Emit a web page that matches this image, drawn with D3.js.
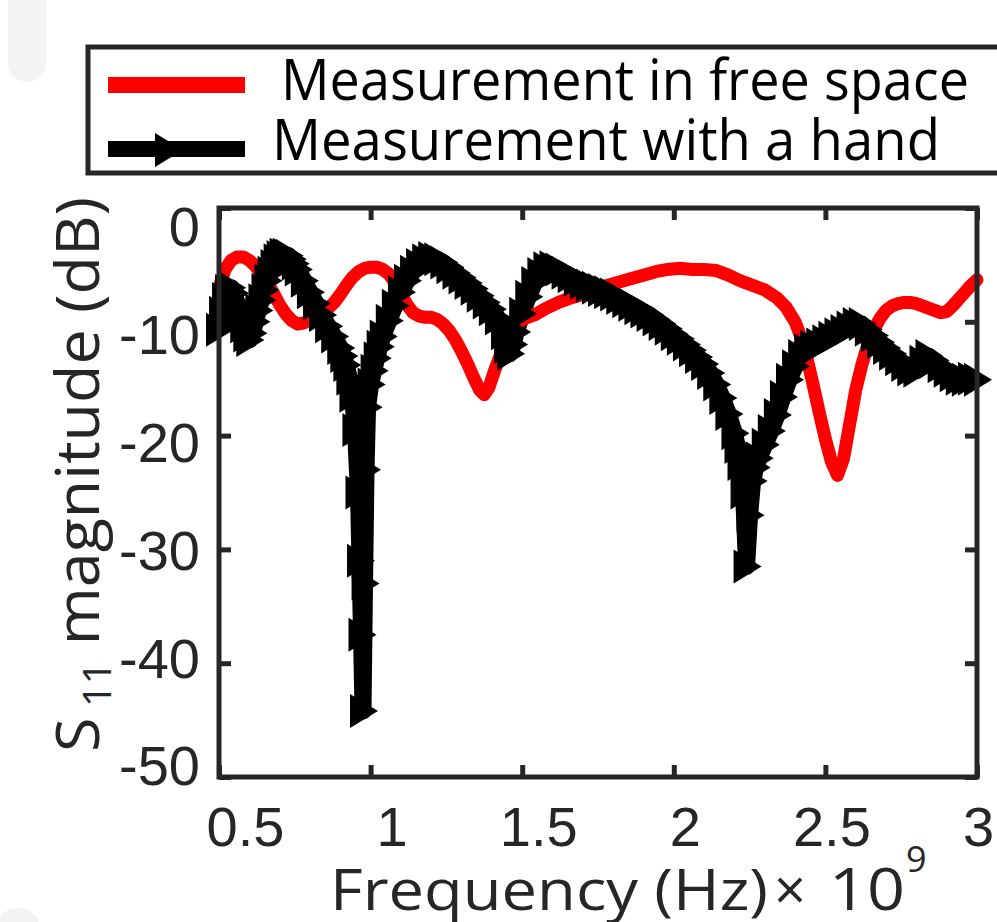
<!DOCTYPE html>
<html>
<head>
<meta charset="utf-8">
<script src="https://cdn.jsdelivr.net/npm/d3@7"></script>
<style>
  body { margin: 0; background: #fff; }
  .tick text { font-family: "Liberation Sans", Arial, sans-serif; }
</style>
</head>
<body>
<div class="chart"></div>
<script>
// measured S11, free space (red)
const freqFree = [0.50, 0.52, 0.54, 0.56, 0.58, 0.60, 0.62, 0.64, 0.66, 0.68, 0.70, 0.72, 0.74, 0.76, 0.78, 0.80,
  0.82, 0.84, 0.86, 0.88, 0.90, 0.92, 0.94, 0.96, 0.98, 1.00, 1.02, 1.04, 1.06, 1.08, 1.10, 1.12, 1.14, 1.16, 1.18,
  1.20, 1.22, 1.24, 1.26, 1.28, 1.30, 1.32, 1.34, 1.36, 1.375, 1.39, 1.41, 1.43, 1.45, 1.47, 1.50, 1.54, 1.58, 1.62,
  1.66, 1.70, 1.74, 1.78, 1.82, 1.86, 1.90, 1.94, 1.98, 2.02, 2.06, 2.10, 2.14, 2.18, 2.22, 2.26, 2.30, 2.34, 2.37,
  2.40, 2.42, 2.44, 2.46, 2.48, 2.50, 2.52, 2.54, 2.56, 2.58, 2.60, 2.62, 2.64, 2.66, 2.68, 2.70, 2.72, 2.74, 2.76,
  2.78, 2.80, 2.82, 2.84, 2.86, 2.88, 2.90, 2.92, 2.94, 2.96, 2.98, 3.00];
const s11Free = [-7.0, -5.4, -4.6, -4.3, -4.3, -4.6, -5.1, -5.8, -6.6, -7.5, -8.5, -9.3, -9.9, -10.2, -10.1, -9.8,
  -9.5, -9.2, -8.8, -8.3, -7.6, -6.8, -6.1, -5.6, -5.3, -5.2, -5.2, -5.4, -5.8, -6.5, -7.5, -8.5, -9.2, -9.5, -9.6,
  -9.6, -9.8, -10.2, -10.8, -11.6, -12.6, -13.7, -14.9, -16.0, -16.4, -15.8, -14.2, -12.8, -11.6, -10.6, -9.8, -9.4, -8.8, -8.3,
  -7.9, -7.6, -7.2, -6.8, -6.5, -6.2, -5.9, -5.6, -5.4, -5.3, -5.4, -5.4, -5.5, -5.9, -6.4, -6.8, -7.2, -7.9, -8.7,
  -10.0, -11.4, -13.3, -15.6, -18.0, -20.3, -22.3, -23.5, -22.0, -19.0, -16.0, -13.8, -12.0, -10.7, -9.7, -9.0, -8.6, -8.4, -8.3,
  -8.3, -8.4, -8.6, -8.8, -9.0, -9.2, -9.1, -8.6, -8.0, -7.4, -6.8, -6.3];

// measured S11, with a hand (black, triangle markers)
const freqHand = [0.50, 0.51, 0.52, 0.53, 0.54, 0.55, 0.56, 0.57, 0.58, 0.59, 0.60, 0.61, 0.62, 0.63, 0.64, 0.65,
  0.66, 0.67, 0.68, 0.69, 0.70, 0.71, 0.72, 0.73, 0.74, 0.75, 0.76, 0.78, 0.80, 0.82, 0.84, 0.86, 0.88, 0.90, 0.91,
  0.92, 0.93, 0.94, 0.95, 0.96, 0.965, 0.97, 0.975, 0.98, 0.985, 0.99, 1.00, 1.01, 1.02, 1.03, 1.04, 1.06, 1.08, 1.10,
  1.12, 1.14, 1.16, 1.18, 1.20, 1.22, 1.24, 1.26, 1.28, 1.30, 1.32, 1.34, 1.36, 1.38, 1.40, 1.42, 1.44, 1.45, 1.46,
  1.47, 1.48, 1.50, 1.52, 1.54, 1.56, 1.58, 1.60, 1.62, 1.64, 1.66, 1.68, 1.70, 1.72, 1.74, 1.76, 1.78, 1.80, 1.82,
  1.84, 1.86, 1.88, 1.90, 1.92, 1.94, 1.96, 1.98, 2.00, 2.02, 2.04, 2.06, 2.08, 2.10, 2.12, 2.14, 2.16, 2.18, 2.20,
  2.21, 2.22, 2.23, 2.24, 2.25, 2.26, 2.27, 2.28, 2.30, 2.32, 2.34, 2.36, 2.38, 2.40, 2.42, 2.44, 2.46, 2.48, 2.50,
  2.52, 2.54, 2.56, 2.58, 2.60, 2.62, 2.64, 2.66, 2.68, 2.70, 2.72, 2.74, 2.76, 2.78, 2.80, 2.82, 2.84, 2.86, 2.88,
  2.90, 2.92, 2.94, 2.96, 2.98, 3.00];
const s11Hand = [-10.7, -9.2, -8.0, -7.3, -7.0, -7.5, -8.4, -9.4, -10.4, -11.2, -11.6, -11.0, -10.0, -9.0, -8.1, -7.2,
  -6.4, -5.7, -5.1, -4.6, -4.3, -4.1, -4.1, -4.2, -4.5, -4.9, -5.4, -6.4, -7.4, -8.4, -9.4, -10.4, -11.3, -12.3, -13.0,
  -13.8, -15.0, -16.5, -19.5, -25.0, -31.0, -37.5, -44.2, -33.0, -23.0, -17.5, -15.5, -14.3, -13.2, -12.2, -11.3, -9.9, -8.6, -7.4,
  -6.4, -5.6, -5.0, -4.6, -4.4, -4.5, -4.8, -5.2, -5.7, -6.1, -6.6, -7.1, -7.7, -8.3, -8.9, -9.7, -11.0, -12.2, -12.8,
  -12.0, -10.9, -9.3, -7.8, -6.6, -5.8, -5.3, -5.2, -5.4, -5.7, -6.0, -6.3, -6.6, -6.8, -7.0, -7.2, -7.4, -7.6, -7.9,
  -8.2, -8.5, -8.8, -9.1, -9.4, -9.8, -10.2, -10.6, -11.1, -11.5, -12.0, -12.5, -13.1, -13.7, -14.5, -15.5, -16.7, -18.1, -19.8,
  -21.0, -22.5, -25.0, -31.5, -27.0, -24.0, -22.8, -22.0, -20.8, -19.6, -18.2, -16.6, -15.1, -13.9, -13.0, -12.5, -12.2, -12.0, -11.7,
  -11.4, -11.1, -10.8, -10.5, -10.2, -10.2, -10.7, -11.2, -11.8, -12.3, -12.8, -13.3, -13.8, -14.2, -14.3, -13.5, -13.0, -13.4, -13.9,
  -14.3, -14.7, -15.0, -15.1, -15.0, -15.1];

const xTicks = [0.5, 1, 1.5, 2, 2.5, 3];
const yTicks = [0, -10, -20, -30, -40, -50];
const seriesNames = ['Measurement in free space', 'Measurement with a hand'];

const W = 997, H = 922;
const plot = {left: 219, right: 977, top: 208, bottom: 777};
const ink = '#262626';

let svg = d3.select('.chart')
  .append('svg')
    .attr('width', W)
    .attr('height', H);

// faint smudges present in the scan
svg.append('rect')
  .attr('x', 8).attr('y', -20).attr('width', 38).attr('height', 102).attr('rx', 19)
  .style('fill', '#f3f3f3');
svg.append('ellipse')
  .attr('cx', 18).attr('cy', 928).attr('rx', 22).attr('ry', 20)
  .style('fill', '#f3f3f3');

let x = d3.scaleLinear().domain([0.5, 3]).range([plot.left, plot.right]);
let y = d3.scaleLinear().domain([-50, 0]).range([plot.bottom, plot.top]);
// tick labels sit slightly inward of their ticks in the original
let xLab = d3.scaleLinear().domain([0.5, 3]).range([245, 978]);
let yLab = d3.scaleLinear().domain([-50, 0]).range([767, 228]);

function tickStyle(g) {
  g.select('.domain').remove();
  g.selectAll('.tick line').style('stroke', ink).style('stroke-width', 5);
}

svg.append('g').attr('transform', `translate(0, ${plot.bottom})`)
  .call(d3.axisBottom(x).tickValues(xTicks).tickSize(-12).tickFormat(''))
  .call(tickStyle);
svg.append('g').attr('transform', `translate(0, ${plot.top})`)
  .call(d3.axisTop(x).tickValues(xTicks).tickSize(-12).tickFormat(''))
  .call(tickStyle);
svg.append('g').attr('transform', `translate(${plot.left}, 0)`)
  .call(d3.axisLeft(y).tickValues(yTicks).tickSize(-12).tickFormat(''))
  .call(tickStyle);
svg.append('g').attr('transform', `translate(${plot.right}, 0)`)
  .call(d3.axisRight(y).tickValues(yTicks).tickSize(-12).tickFormat(''))
  .call(tickStyle);

// tick labels
let xLabels = svg.append('g').attr('transform', 'translate(0, 806)')
  .call(d3.axisBottom(xLab).tickValues(xTicks).tickSize(0).tickPadding(0).tickFormat(d => String(d)));
xLabels.select('.domain').remove();
xLabels.selectAll('text').style('font-size', '56px').style('fill', ink);

let yLabels = svg.append('g').attr('transform', 'translate(200, 0)')
  .call(d3.axisLeft(yLab).tickValues(yTicks).tickSize(0).tickPadding(0).tickFormat(d => String(d)));
yLabels.select('.domain').remove();
yLabels.selectAll('text').style('font-size', '56px').style('fill', ink);

// data
const free = freqFree.map((f, i) => ({f: f, v: s11Free[i]}));
const hand = freqHand.map((f, i) => ({f: f, v: s11Hand[i]}));
const line = d3.line().x(d => x(d.f)).y(d => y(d.v));
const tri = 'M-13,-17L15,0L-13,17Z';

svg.append('path').datum(hand)
  .attr('d', line)
  .style('fill', 'none').style('stroke', '#000').style('stroke-width', 17)
  .style('stroke-linejoin', 'round');

svg.append('path').datum(free)
  .attr('d', line)
  .style('fill', 'none').style('stroke', '#ff0000').style('stroke-width', 13)
  .style('stroke-linejoin', 'round').style('stroke-linecap', 'round');

svg.append('g').selectAll('path')
  .data(hand)
  .join('path')
    .attr('d', tri)
    .attr('transform', d => `translate(${x(d.f)}, ${y(d.v)})`)
    .style('fill', '#000');

// frame
svg.append('rect')
  .attr('x', plot.left).attr('y', plot.top)
  .attr('width', plot.right - plot.left).attr('height', plot.bottom - plot.top)
  .style('fill', 'none').style('stroke', ink).style('stroke-width', 5);

// axis titles
const titleFont = '"Open Sans", "Noto Sans", sans-serif';
svg.append('text')
  .attr('x', 330).attr('y', 910)
  .attr('textLength', 438).attr('lengthAdjust', 'spacingAndGlyphs')
  .style('font-family', titleFont).style('font-size', '56px').style('fill', ink)
  .text('Frequency (Hz)');
svg.append('text')
  .attr('x', 774).attr('y', 910)
  .style('font-family', titleFont).style('font-size', '56px').style('fill', ink)
  .text('\u00d7');
svg.append('text')
  .attr('x', 829).attr('y', 910)
  .attr('textLength', 76).attr('lengthAdjust', 'spacingAndGlyphs')
  .style('font-family', titleFont).style('font-size', '58px').style('fill', ink)
  .text('10');
svg.append('text')
  .attr('x', 906).attr('y', 872)
  .style('font-family', titleFont).style('font-size', '36px').style('fill', ink)
  .text('9');

let yTitle = svg.append('text')
  .attr('transform', 'translate(99, 752) rotate(-90)')
  .attr('textLength', 555).attr('lengthAdjust', 'spacingAndGlyphs')
  .style('font-family', titleFont).style('font-size', '60px').style('fill', ink);
yTitle.append('tspan').text('S');
yTitle.append('tspan').attr('dx', 10).attr('dy', 12).style('font-size', '38px').text('11');
yTitle.append('tspan').attr('dy', -12).text(' magnitude (dB)');

// legend
let legend = svg.append('g');
legend.append('rect')
  .attr('x', 88).attr('y', 47).attr('width', 960).attr('height', 126)
  .style('fill', '#fff').style('stroke', ink).style('stroke-width', 5);
legend.append('line')
  .attr('x1', 108).attr('x2', 245).attr('y1', 85).attr('y2', 85)
  .style('stroke', '#ff0000').style('stroke-width', 16);
legend.append('line')
  .attr('x1', 108).attr('x2', 245).attr('y1', 149).attr('y2', 149)
  .style('stroke', '#000').style('stroke-width', 16);
legend.append('path')
  .attr('d', tri).attr('transform', 'translate(168, 150)')
  .style('fill', '#000');
legend.append('text')
  .attr('x', 281).attr('y', 100)
  .attr('textLength', 688).attr('lengthAdjust', 'spacingAndGlyphs')
  .style('font-family', titleFont).style('font-size', '56px').style('fill', '#000')
  .text(seriesNames[0]);
legend.append('text')
  .attr('x', 272).attr('y', 160)
  .attr('textLength', 668).attr('lengthAdjust', 'spacingAndGlyphs')
  .style('font-family', titleFont).style('font-size', '56px').style('fill', '#000')
  .text(seriesNames[1]);
</script>
</body>
</html>
